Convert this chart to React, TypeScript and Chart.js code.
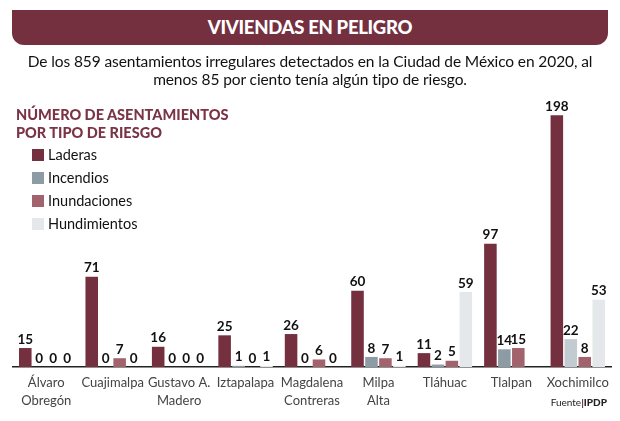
import React, { useEffect, useRef } from "react";
import { Chart, registerables } from "chart.js";

Chart.register(...registerables);

const categories: (string | string[])[] = [
  ["Álvaro", "Obregón"],
  "Cuajimalpa",
  ["Gustavo A.", "Madero"],
  "Iztapalapa",
  ["Magdalena", "Contreras"],
  ["Milpa", "Alta"],
  "Tláhuac",
  "Tlalpan",
  "Xochimilco",
];

const seriesNames = ["Laderas", "Incendios", "Inundaciones", "Hundimientos"];

const laderas = [15, 71, 16, 25, 26, 60, 11, 97, 198];
const incendios = [0, 0, 0, 1, 0, 8, 2, 14, 22];
const inundaciones = [0, 7, 0, 0, 6, 7, 5, 15, 8];
const hundimientos: (number | null)[] = [0, 0, 0, 1, 0, 1, 59, null, 53];

const MAROON = "#74303F";
const GRAY = "#8D9BA5";
const GRAY_LIGHT = "#C2CBD1";
const ROSE = "#A3636C";
const PALE = "#E5E8EB";

const FONT = "Lato, 'Noto Sans', sans-serif";

const valueLabels = {
  id: "valueLabels",
  afterDatasetsDraw(chart: any) {
    const ctx = chart.ctx;
    ctx.save();
    ctx.font = `bold 13.5px ${FONT}`;
    ctx.fillStyle = "#111";
    ctx.textAlign = "center";
    ctx.textBaseline = "bottom";
    chart.data.datasets.forEach((ds: any, di: number) => {
      const meta = chart.getDatasetMeta(di);
      meta.data.forEach((el: any, i: number) => {
        const v = ds.data[i];
        if (v === null || v === undefined) return;
        ctx.fillText(String(v), el.x, el.y - 2);
      });
    });
    ctx.restore();
  },
};

export default function App() {
  const ref = useRef<HTMLCanvasElement | null>(null);

  useEffect(() => {
    if (!ref.current) return;
    const chart = new Chart(ref.current, {
      type: "bar",
      data: {
        labels: categories,
        datasets: [
          { label: seriesNames[0], data: laderas, backgroundColor: MAROON },
          {
            label: seriesNames[1],
            data: incendios,
            backgroundColor: incendios.map((_, i) => (i === 8 ? GRAY_LIGHT : GRAY)),
          },
          { label: seriesNames[2], data: inundaciones, backgroundColor: ROSE },
          { label: seriesNames[3], data: hundimientos, backgroundColor: PALE },
        ],
      },
      options: {
        responsive: false,
        animation: false,
        layout: { padding: { left: 13, right: 9, top: 100, bottom: 4 } },
        datasets: { bar: { barPercentage: 0.9, categoryPercentage: 0.84 } },
        plugins: {
          legend: { display: false },
          tooltip: { enabled: false },
          title: { display: false },
        },
        scales: {
          x: {
            grid: { display: false, drawTicks: false },
            border: { display: true, color: "#222", width: 1.5 },
            ticks: {
              color: "#444",
              font: { family: FONT, size: 13, lineHeight: 1.38 },
              padding: 7,
              maxRotation: 0,
              autoSkip: false,
            },
          },
          y: {
            display: false,
            min: 0,
            max: 210,
          },
        },
      },
      plugins: [valueLabels],
    });
    return () => chart.destroy();
  }, []);

  const legendColors = [MAROON, GRAY, ROSE, PALE];

  return (
    <div
      style={{
        position: "fixed",
        left: 0,
        top: 0,
        width: 620,
        height: 421,
        background: "#fff",
        fontFamily: FONT,
        overflow: "hidden",
      }}
    >
      <canvas ref={ref} width={620} height={421} style={{ position: "absolute", left: 0, top: 0 }} />
      <div
        style={{
          position: "absolute",
          left: 12,
          top: 10,
          width: 596,
          height: 35,
          background: MAROON,
          borderRadius: "0 0 12px 12px",
          color: "#fff",
          fontWeight: 900,
          fontSize: 18.5,
          lineHeight: "35px",
          textAlign: "center",
          letterSpacing: -0.3,
        }}
      >
        VIVIENDAS EN PELIGRO
      </div>
      <div
        style={{
          position: "absolute",
          left: 0,
          top: 52,
          width: 620,
          textAlign: "center",
          fontSize: 15.5,
          lineHeight: "18px",
          color: "#111",
          letterSpacing: -0.1,
        }}
      >
        De los 859 asentamientos irregulares detectados en la Ciudad de México en 2020, al
        <br />
        menos 85 por ciento tenía algún tipo de riesgo.
      </div>
      <div
        style={{
          position: "absolute",
          left: 16,
          top: 106,
          fontSize: 14.5,
          fontWeight: 900,
          lineHeight: "18px",
          color: "#7A3445",
        }}
      >
        NÚMERO DE ASENTAMIENTOS
        <br />
        POR TIPO DE RIESGO
      </div>
      <div style={{ position: "absolute", left: 32, top: 143 }}>
        {seriesNames.map((n, i) => (
          <div
            key={n}
            style={{ display: "flex", alignItems: "center", height: 23, fontSize: 14.5, color: "#111" }}
          >
            <span
              style={{
                display: "inline-block",
                width: 12,
                height: 12,
                background: legendColors[i],
                marginRight: 4,
              }}
            />
            {n}
          </div>
        ))}
      </div>
      <div
        style={{
          position: "absolute",
          right: 13,
          top: 396,
          fontSize: 10,
          color: "#222",
        }}
      >
        Fuente<span style={{ color: MAROON, fontWeight: 900 }}>|</span>
        <span style={{ fontWeight: 900 }}>IPDP</span>
      </div>
    </div>
  );
}
